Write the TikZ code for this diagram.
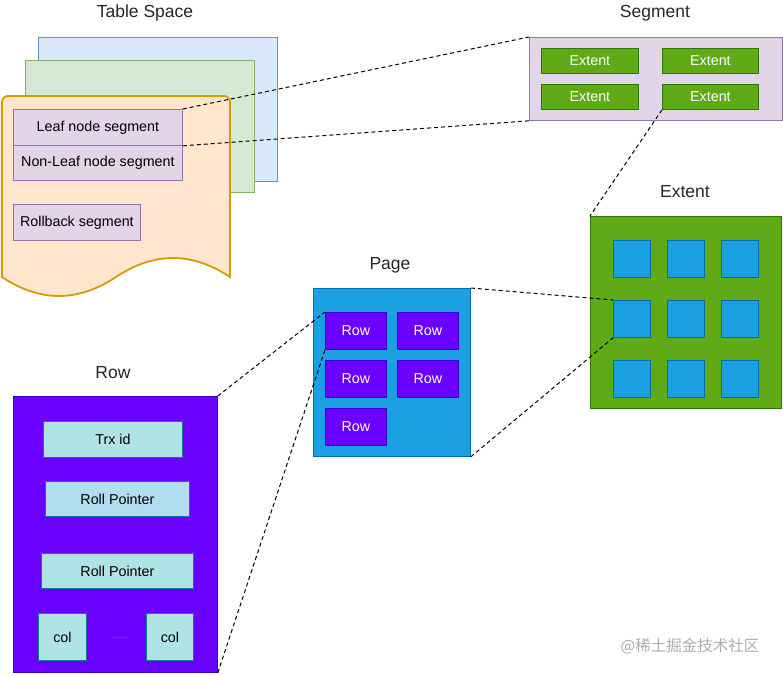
\documentclass[tikz,border=0pt]{standalone}
\usepackage{fontspec}
\setmainfont{Liberation Sans}
\newfontfamily\cjk{Noto Sans CJK SC}
\definecolor{bluef}{HTML}{DAE8FC}\definecolor{blues}{HTML}{6C8EBF}
\definecolor{greenf}{HTML}{D5E8D4}\definecolor{greens}{HTML}{82B366}
\definecolor{orangef}{HTML}{FFE6CC}\definecolor{oranges}{HTML}{D79B00}
\definecolor{purpf}{HTML}{E1D5E7}\definecolor{purps}{HTML}{9673A6}
\definecolor{extf}{HTML}{60A917}\definecolor{exts}{HTML}{2D7600}
\definecolor{pagef}{HTML}{1BA1E2}\definecolor{pages}{HTML}{006EAF}
\definecolor{rowf}{HTML}{6A00FF}\definecolor{rows}{HTML}{3700CC}
\definecolor{tealf}{HTML}{B0E3E6}\definecolor{teals}{HTML}{0E8088}
\definecolor{lbluef}{HTML}{B1DDF0}\definecolor{lblues}{HTML}{10739E}
\tikzset{
  box/.style={draw, line width=0.8pt, inner sep=0pt},
  purpbox/.style={box, fill=purpf, draw=purps, font=\fontsize{14.3}{16}\selectfont},
  extbox/.style={box, fill=extf, draw=exts, text=white, font=\fontsize{14.3}{16}\selectfont},
  pagebox/.style={box, fill=pagef, draw=pages},
  rowbox/.style={box, fill=rowf, draw=rows, text=white, font=\fontsize{14.3}{16}\selectfont},
  tealbox/.style={box, fill=tealf, draw=teals, font=\fontsize{14.3}{16}\selectfont},
  lbluebox/.style={box, fill=lbluef, draw=lblues, font=\fontsize{14.3}{16}\selectfont},
  ttl/.style={font=\fontsize{17.5}{20}\selectfont, text=black!85},
  link/.style={line width=1pt, dash pattern=on 4pt off 3pt}
}
\begin{document}
\begin{tikzpicture}[x=1pt,y=-1pt]
\useasboundingbox (0,0) rectangle (783,675);
% Table space
\node[ttl] (tstitle) at (145,13) {Table Space};
\node[box, fill=bluef, draw=blues, minimum width=239, minimum height=144, anchor=north west] (tsblue) at (38,37) {};
\node[box, fill=greenf, draw=greens, minimum width=229, minimum height=132, anchor=north west] (tsgreen) at (25,60) {};
\draw[fill=orangef, draw=oranges, line width=1.8pt, rounded corners=6pt]
  (2,277) -- (2,96) -- (230,96) [sharp corners] -- (230,277)
  .. controls (192,251.7) and (154,251.7) .. (116,277)
  .. controls (78,302.3) and (40,302.3) .. (2,277) -- cycle;
\node[purpbox, minimum width=169, minimum height=36, anchor=north west] (leaf) at (13,109) {Leaf node segment};
\node[purpbox, minimum width=169, minimum height=35, anchor=north west] (nonleaf) at (13,145) {Non-Leaf node segment};
\node[purpbox, minimum width=127, minimum height=36, anchor=north west] (rollback) at (13,204) {Rollback segment};
% Segment
\node[ttl] (segtitle) at (655,13) {Segment};
\node[purpbox, minimum width=253, minimum height=83, anchor=north west] (seg) at (529,37) {};
\node[extbox, minimum width=97, minimum height=25, anchor=north west] (e1) at (541,48) {Extent};
\node[extbox, minimum width=96, minimum height=25, anchor=north west] (e2) at (662,48) {Extent};
\node[extbox, minimum width=97, minimum height=25, anchor=north west] (e3) at (541,84) {Extent};
\node[extbox, minimum width=96, minimum height=25, anchor=north west] (e4) at (662,84) {Extent};
% Extent
\node[ttl] (exttitle) at (685,192) {Extent};
\node[box, fill=extf, draw=exts, minimum width=191, minimum height=192, anchor=north west] (ext) at (590,216) {};
\foreach \c/\x in {1/613,2/667,3/721}{
  \foreach \r/\y in {1/240,2/300,3/360}{
    \node[pagebox, minimum width=37, minimum height=37, anchor=north west] (p\r\c) at (\x,\y) {};
  }
}
% Page
\node[ttl] (pagetitle) at (390,265) {Page};
\node[pagebox, minimum width=157, minimum height=168, anchor=north west] (page) at (313,288) {};
\node[rowbox, minimum width=61, minimum height=37, anchor=north west] (r1) at (325,312) {Row};
\node[rowbox, minimum width=61, minimum height=37, anchor=north west] (r2) at (397,312) {Row};
\node[rowbox, minimum width=61, minimum height=37, anchor=north west] (r3) at (325,360) {Row};
\node[rowbox, minimum width=61, minimum height=37, anchor=north west] (r4) at (397,360) {Row};
\node[rowbox, minimum width=61, minimum height=37, anchor=north west] (r5) at (325,408) {Row};
% Row
\node[ttl] (rowtitle) at (113,373) {Row};
\node[rowbox, minimum width=204, minimum height=276, anchor=north west] (row) at (13,396) {};
\node[tealbox, minimum width=139, minimum height=36, anchor=north west] (trx) at (43,421) {Trx id};
\node[lbluebox, minimum width=144, minimum height=35, anchor=north west] (rp1) at (45,481) {Roll Pointer};
\node[tealbox, minimum width=152, minimum height=35, anchor=north west] (rp2) at (41,553) {Roll Pointer};
\node[tealbox, minimum width=48, minimum height=47, anchor=north west] (col1) at (38,613) {col};
\node[tealbox, minimum width=47, minimum height=47, anchor=north west] (col2) at (146,613) {col};
\node[font=\fontsize{9}{10}\selectfont, text=violet!60!white] (dots) at (120,638) {......};
% Links
\draw[link] (leaf.north east) -- (seg.north west);
\draw[link] (leaf.south east) -- (seg.south west);
\draw[link] (e4.south west) -- (ext.north west);
\draw[link] (page.north east) -- (p21.north west);
\draw[link] (page.south east) -- (p21.south west);
\draw[link] (row.north east) -- (r1.north west);
\draw[link] (row.south east) -- (r1.south west);
% watermark
\node[font=\cjk\fontsize{15.5}{17}\selectfont, text=black!32] (wm) at (690,646) {@稀土掘金技术社区};
\end{tikzpicture}
\end{document}
